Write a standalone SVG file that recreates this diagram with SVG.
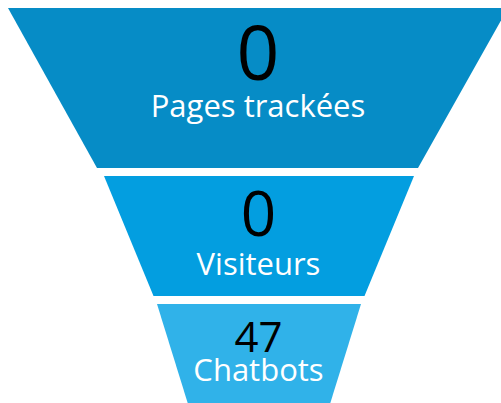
<svg xmlns="http://www.w3.org/2000/svg" width="501" height="403" viewBox="0 0 501 403">
<style>
.num{font-family:"Open Sans","Liberation Sans",sans-serif;fill:#000;text-anchor:middle}
.lbl{font-family:"Open Sans","Liberation Sans",sans-serif;fill:#fff;text-anchor:middle;font-size:31px}
</style>
<rect width="501" height="403" fill="#fff"/>
<g id="stage-pages">
<polygon points="8,8 508,8 418,168 97,168" fill="#068cc6"/>
<text class="num" x="258" y="80" font-size="75">0</text>
<text class="lbl" x="258" y="117">Pages trackées</text>
</g>
<g id="stage-visiteurs">
<polygon points="104,176 414,176 364.5,296 153.5,296" fill="#039ee0"/>
<text class="num" x="258.5" y="236" font-size="62">0</text>
<text class="lbl" x="258.5" y="275">Visiteurs</text>
</g>
<g id="stage-chatbots">
<polygon points="157,304 361,304 330,404 188,404" fill="#30b2e9"/>
<text class="num" x="258.5" y="352" font-size="42">47</text>
<text class="lbl" x="258.5" y="381">Chatbots</text>
</g>
<g id="connectors"/>
</svg>
